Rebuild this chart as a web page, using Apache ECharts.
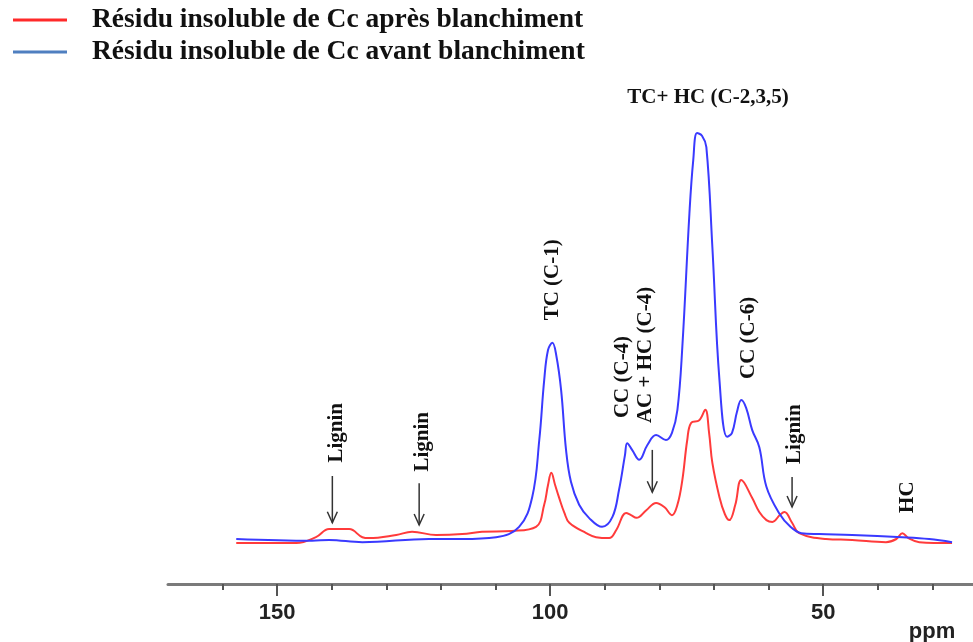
<!DOCTYPE html>
<html lang="fr">
<head>
  <meta charset="UTF-8">
  <title>RMN 13C</title>
  <script src="https://cdn.jsdelivr.net/npm/echarts@6/dist/echarts.min.js"></script>
  <style>
    html, body { margin: 0; padding: 0; background: #fff; }
  </style>
</head>
<body>
  <div id="chart" style="width:973px;height:642px;"></div>

  <script>
    // spectre avant blanchiment (bleu)
    var bluePpm = [157.5, 143.6, 140.5, 134.4, 122.2, 116.1, 109.9, 105.7, 103.3, 102.0, 101.1, 100.4, 99.6, 98.9, 98.0, 97.1, 96.2, 94.7, 92.9, 90.5,
      88.6, 87.4, 86.3, 85.9, 85.0, 83.7, 82.2, 80.6, 78.8, 77.7, 76.7, 75.8, 74.5, 73.8, 73.1, 72.2, 71.4, 70.3, 69.0, 67.6,
      66.7, 65.8, 65.0, 64.1, 63.0, 61.7, 60.4, 58.1, 56.0, 54.0, 50.7, 44.7, 35.5, 30.6, 26.4];
    var blueInt = [10.0, 9.6, 9.8, 9.3, 10.0, 10.0, 10.4, 12.7, 19.3, 32.0, 45.3, 52.0, 53.6, 50.9, 43.1, 29.8, 22.7, 17.6, 14.7, 12.7,
      14.9, 20.9, 28.7, 31.3, 29.8, 27.6, 30.9, 33.1, 32.0, 33.6, 38.7, 52.7, 82.4, 94.2, 100.2, 99.6, 97.1, 74.9, 45.3, 32.7,
      33.6, 38.2, 40.9, 39.1, 34.2, 30.4, 21.6, 15.8, 12.7, 11.3, 11.1, 10.9, 10.4, 10.0, 9.3];

    // spectre après blanchiment (rouge)
    var redPpm = [157.5, 146.5, 142.9, 140.5, 136.8, 134.4, 133.2, 128.2, 125.3, 120.9, 116.1, 112.5, 107.0, 102.6, 101.1, 100.4, 99.8, 99.1, 98.4, 97.4,
      96.5, 93.4, 91.6, 89.2, 87.9, 86.1, 85.2, 84.2, 82.4, 80.6, 79.1, 77.7, 76.7, 75.8, 74.9, 74.2, 72.7, 71.6, 70.9, 70.3,
      69.0, 68.0, 67.2, 66.1, 65.0, 63.0, 61.7, 60.4, 59.3, 57.9, 57.1, 55.7, 54.4, 49.5, 44.7, 38.5, 36.6, 35.5, 34.4, 32.4, 26.4];
    var redInt = [9.1, 9.1, 10.4, 12.2, 12.2, 10.4, 10.2, 10.9, 11.6, 10.9, 11.1, 11.6, 11.8, 12.7, 17.6, 22.0, 24.7, 22.0, 19.3, 15.8,
      13.6, 11.3, 10.4, 10.2, 12.0, 15.8, 15.3, 14.7, 16.4, 18.0, 17.1, 15.3, 17.6, 23.1, 32.0, 35.8, 36.4, 38.7, 33.6, 26.9,
      19.3, 15.5, 14.2, 17.6, 23.1, 19.1, 16.0, 14.2, 13.8, 15.4, 16.0, 13.6, 11.3, 10.0, 9.8, 9.3, 10.0, 11.3, 10.2, 9.3, 9.1];

    var seriesNames = ['Résidu insoluble de Cc après blanchiment', 'Résidu insoluble de Cc avant blanchiment'];

    // annotations : texte, ppm, intensité du centre, rotation
    var labels = [
      { text: 'Lignin', ppm: 139.2, y: 33.6, vertical: true },
      { text: 'Lignin', ppm: 123.4, y: 31.6, vertical: true },
      { text: 'TC (C-1)', ppm: 99.6, y: 67.6, vertical: true },
      { text: 'CC (C-4)', ppm: 86.8, y: 46.0, vertical: true },
      { text: 'AC + HC (C-4)', ppm: 82.6, y: 50.9, vertical: true },
      { text: 'TC+ HC (C-2,3,5)', ppm: 71.1, y: 108, vertical: false },
      { text: 'CC (C-6)', ppm: 63.6, y: 54.7, vertical: true },
      { text: 'Lignin', ppm: 55.3, y: 33.3, vertical: true },
      { text: 'HC', ppm: 34.6, y: 19.3, vertical: true }
    ];
    // flèches : ppm, intensité haut, intensité bas
    var arrows = [
      [139.9, 24.0, 13.6],
      [124.0, 22.4, 13.1],
      [81.3, 29.8, 20.4],
      [55.7, 23.8, 17.1]
    ];

    function pairs(xs, ys) {
      return xs.map(function (x, i) { return [x, ys[i]]; });
    }

    var myChart = echarts.init(document.getElementById('chart'));
    var pxPerPpm = 819 / 150;
    function px(p) { return 168 + (170 - p) * pxPerPpm; }

    var option = {
      animation: false,
      legend: {
        orient: 'vertical',
        left: 8,
        top: 1,
        itemWidth: 54,
        itemHeight: 3,
        itemGap: 4,
        icon: 'rect',
        data: [
          { name: seriesNames[0], itemStyle: { color: '#ff2a2a' } },
          { name: seriesNames[1], itemStyle: { color: '#4f7fc0' } }
        ],
        textStyle: {
          fontFamily: 'Liberation Serif',
          fontWeight: 'bold',
          fontSize: 27.5,
          color: '#111',
          padding: [0, 0, 0, 20]
        }
      },
      grid: [
        { left: 168, width: 819, top: 89, bottom: 58, outerBoundsMode: 'none' },
        { left: px(160), width: px(30) - px(160), top: 89, bottom: 58, outerBoundsMode: 'none' },
        { left: px(150), width: px(50) - px(150), top: 89, bottom: 58, outerBoundsMode: 'none' }
      ],
      xAxis: [
        {
          type: 'value', gridIndex: 0, inverse: true, min: 20, max: 170,
          axisLine: { lineStyle: { color: '#7a7a7a', width: 3 } },
          axisTick: { show: false }, axisLabel: { show: false }, splitLine: { show: false }
        },
        {
          type: 'value', gridIndex: 1, inverse: true, min: 30, max: 160, interval: 10,
          axisLine: { show: false },
          axisTick: { length: 6, lineStyle: { color: '#555', width: 2 } },
          axisLabel: { show: false }, splitLine: { show: false }
        },
        {
          type: 'value', gridIndex: 2, inverse: true, min: 50, max: 150, interval: 50,
          axisLine: { show: false },
          axisTick: { length: 12, lineStyle: { color: '#555', width: 2 } },
          axisLabel: {
            margin: 18, fontFamily: 'Liberation Sans', fontWeight: 'bold', fontSize: 22, color: '#222'
          },
          splitLine: { show: false }
        }
      ],
      yAxis: [
        { type: 'value', gridIndex: 0, min: 0, max: 110, show: false },
        { type: 'value', gridIndex: 1, min: 0, max: 110, show: false },
        { type: 'value', gridIndex: 2, min: 0, max: 110, show: false }
      ],
      series: [
        {
          name: seriesNames[0], type: 'line', xAxisIndex: 0, yAxisIndex: 0,
          data: pairs(redPpm, redInt), smooth: 0.4, showSymbol: false,
          lineStyle: { color: '#ff3b3b', width: 2 }, itemStyle: { color: '#ff2a2a' }
        },
        {
          name: seriesNames[1], type: 'line', xAxisIndex: 0, yAxisIndex: 0,
          data: pairs(bluePpm, blueInt), smooth: 0.4, showSymbol: false,
          lineStyle: { color: '#3a3aff', width: 2 }, itemStyle: { color: '#4f7fc0' }
        }
      ]
    };
    myChart.setOption(option);

    // annotations placées depuis les coordonnées des données
    var graphics = [];
    labels.forEach(function (l) {
      var p = myChart.convertToPixel({ xAxisIndex: 0, yAxisIndex: 0 }, [l.ppm, l.y]);
      graphics.push({
        type: 'text', x: p[0], y: p[1], rotation: l.vertical ? Math.PI / 2 : 0,
        style: {
          text: l.text, fill: '#111', align: 'center', verticalAlign: 'middle',
          font: 'bold 21px "Liberation Serif"'
        }
      });
    });
    arrows.forEach(function (a) {
      var top = myChart.convertToPixel({ xAxisIndex: 0, yAxisIndex: 0 }, [a[0], a[1]]);
      var bot = myChart.convertToPixel({ xAxisIndex: 0, yAxisIndex: 0 }, [a[0], a[2]]);
      graphics.push({
        type: 'line', shape: { x1: top[0], y1: top[1], x2: bot[0], y2: bot[1] },
        style: { stroke: '#333', lineWidth: 1.5 }
      });
      graphics.push({
        type: 'polyline', shape: { points: [[bot[0] - 5, bot[1] - 11], [bot[0], bot[1]], [bot[0] + 5, bot[1] - 11]] },
        style: { stroke: '#333', lineWidth: 1.5, fill: null }
      });
    });
    graphics.push({
      type: 'text', x: 932, y: 632,
      style: { text: 'ppm', fill: '#222', align: 'center', verticalAlign: 'middle', font: 'bold 22px "Liberation Sans"' }
    });
    myChart.setOption({ graphic: graphics });
  </script>
</body>
</html>
